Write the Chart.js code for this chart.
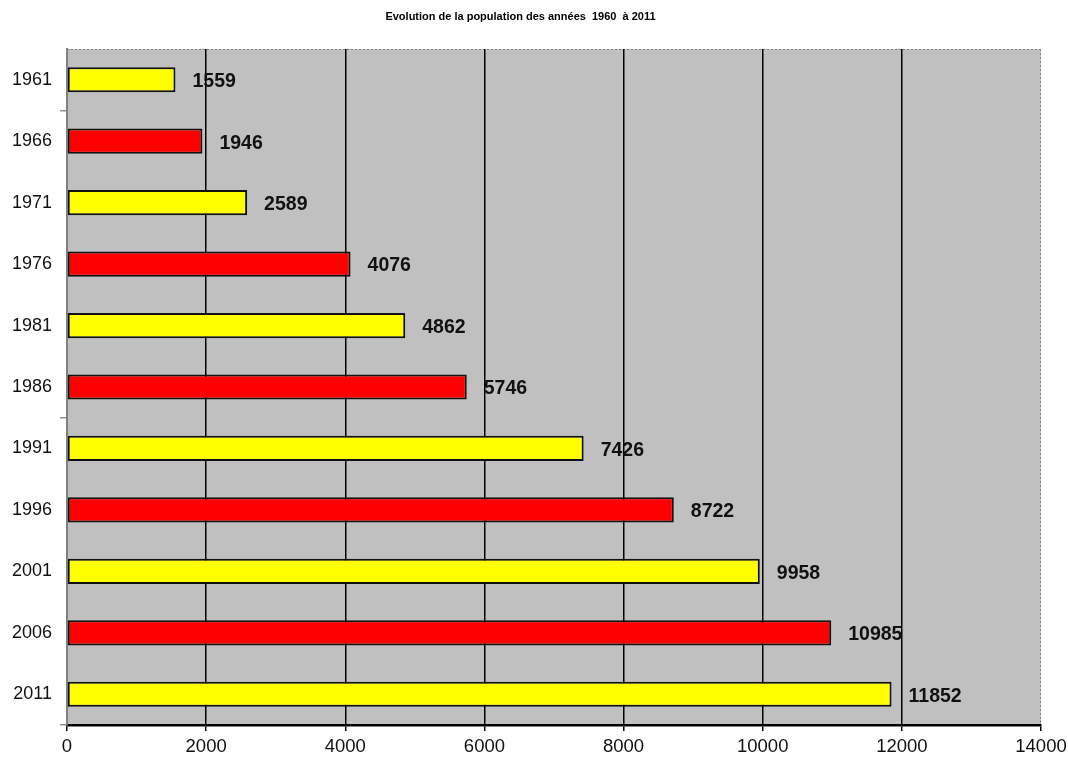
<!DOCTYPE html>
<html>
<head>
<meta charset="utf-8">
<script src="https://cdn.jsdelivr.net/npm/chart.js@4/dist/chart.umd.min.js"></script>
<style>
  html, body { margin: 0; padding: 0; background: #fff; }
  #wrap { width: 1068px; height: 758px; }
</style>
</head>
<body>
<div id="wrap"><canvas id="chart-bar-pop"></canvas></div>
<script>
// data
const years = ['1961', '1966', '1971', '1976', '1981', '1986', '1991', '1996', '2001', '2006', '2011'];
const population = [1559, 1946, 2589, 4076, 4862, 5746, 7426, 8722, 9958, 10985, 11852];
const barColors = ['#FFFF00', '#FF0000', '#FFFF00', '#FF0000', '#FFFF00', '#FF0000', '#FFFF00', '#FF0000', '#FFFF00', '#FF0000', '#FFFF00'];
const xMax = 14000;
const xStep = 2000;

// gray plot background + dotted top/right border
const plotBackground = {
    id: 'plotBackground',
    beforeDraw(chart) {
        const { ctx, chartArea: a } = chart;
        ctx.save();
        ctx.fillStyle = '#C0C0C0';
        ctx.fillRect(a.left, a.top, a.right - a.left, a.bottom - a.top);
        ctx.strokeStyle = '#808080';
        ctx.lineWidth = 1;
        ctx.setLineDash([2, 2]);
        ctx.beginPath();
        ctx.moveTo(a.left, a.top + 0.5);
        ctx.lineTo(a.right, a.top + 0.5);
        ctx.moveTo(a.right - 0.5, a.top);
        ctx.lineTo(a.right - 0.5, a.bottom);
        ctx.stroke();
        ctx.restore();
    }
};

// bold value labels to the right of each bar
const valueLabels = {
    id: 'valueLabels',
    afterDatasetsDraw(chart) {
        const { ctx } = chart;
        const meta = chart.getDatasetMeta(0);
        ctx.save();
        ctx.font = 'bold 19.5px "Liberation Sans", Arial, sans-serif';
        ctx.fillStyle = '#111';
        ctx.textAlign = 'left';
        ctx.textBaseline = 'middle';
        meta.data.forEach((bar, i) => {
            ctx.fillText(population[i], bar.x + 17, bar.y + 2);
        });
        ctx.restore();
    }
};

const config = {
    type: 'bar',
    data: {
        labels: years,
        datasets: [{
            data: population,
            backgroundColor: barColors,
            borderColor: '#111',
            borderWidth: 2,
            borderSkipped: false,
            categoryPercentage: 1,
            barPercentage: 0.41
        }]
    },
    options: {
        indexAxis: 'y',
        responsive: false,
        animation: false,
        layout: { padding: { left: 0, right: 27, top: 0, bottom: 0 } },
        plugins: {
            legend: { display: false },
            tooltip: { enabled: false },
            title: {
                display: true,
                text: 'Evolution de la population des années  1960  à 2011',
                color: '#000',
                font: { family: '"Liberation Sans", Arial, sans-serif', size: 11, weight: 'bold', lineHeight: 1.2 },
                padding: { top: 10.4, bottom: 25.4 }
            }
        },
        scales: {
            x: {
                min: 0,
                max: xMax,
                ticks: {
                    stepSize: xStep,
                    color: '#111',
                    padding: 5,
                    font: { family: '"Liberation Sans", Arial, sans-serif', size: 18.5 },
                    callback: v => String(v)
                },
                grid: {
                    color: ctx => (ctx.tick && (ctx.tick.value === 0 || ctx.tick.value === xMax)) ? 'rgba(0,0,0,0)' : '#000',
                    lineWidth: 1.5,
                    tickColor: '#000',
                    tickLength: 6
                },
                border: { color: '#000', width: 2.5 },
                afterFit: s => { s.height = 33; s.paddingLeft = 0; s.paddingRight = 0; }
            },
            y: {
                offset: true,
                ticks: {
                    color: '#111',
                    padding: 8,
                    font: { family: '"Liberation Sans", Arial, sans-serif', size: 18 }
                },
                grid: {
                    offset: true,
                    drawOnChartArea: false,
                    // only a few tick marks on the category axis, as in the source
                    tickColor: ctx => (ctx.type === 'scale' || ctx.index === 1 || ctx.index === 6) ? '#909090' : 'rgba(0,0,0,0)',
                    tickLength: 7,
                    lineWidth: 1.5
                },
                border: { color: '#808080', width: 2 },
                afterFit: s => { s.width = 67; }
            }
        }
    },
    plugins: [plotBackground, valueLabels]
};

const canvas = document.getElementById('chart-bar-pop');
canvas.width = 1068;
canvas.height = 758;
new Chart(canvas.getContext('2d'), config);
</script>
</body>
</html>
